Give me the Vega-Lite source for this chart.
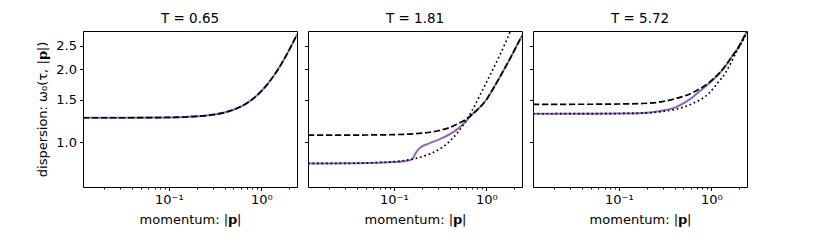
{
  "$schema": "https://vega.github.io/schema/vega-lite/v6.json",
  "padding": {"left": 36, "top": 11, "right": 5, "bottom": 5},
  "background": "white",
  "config": {
    "font": "DejaVu Sans",
    "view": {"stroke": "black", "strokeWidth": 1},
    "axis": {"grid": false, "domain": false, "tickColor": "black", "tickWidth": 1, "labelColor": "black", "titleColor": "black", "labelFontSize": 13, "titleFontSize": 13, "titleFontWeight": "normal", "labelFont": "DejaVu Sans", "titleFont": "DejaVu Sans"},
    "title": {"fontSize": 13.5, "fontWeight": "normal", "color": "black", "font": "DejaVu Sans", "offset": 6}
  },
  "datasets": {
    "d": [
      {"T":"0.65","s":"solid","p":0.0118,"w":1.264},{"T":"0.65","s":"solid","p":0.02,"w":1.264},{"T":"0.65","s":"solid","p":0.03,"w":1.264},{"T":"0.65","s":"solid","p":0.05,"w":1.265},{"T":"0.65","s":"solid","p":0.07,"w":1.266},{"T":"0.65","s":"solid","p":0.1,"w":1.268},{"T":"0.65","s":"solid","p":0.15,"w":1.273},{"T":"0.65","s":"solid","p":0.2,"w":1.281},{"T":"0.65","s":"solid","p":0.3,"w":1.301},{"T":"0.65","s":"solid","p":0.4,"w":1.329},{"T":"0.65","s":"solid","p":0.5,"w":1.364},{"T":"0.65","s":"solid","p":0.6,"w":1.405},{"T":"0.65","s":"solid","p":0.7,"w":1.453},{"T":"0.65","s":"solid","p":0.8,"w":1.506},{"T":"0.65","s":"solid","p":1.0,"w":1.627},{"T":"0.65","s":"solid","p":1.2,"w":1.763},{"T":"0.65","s":"solid","p":1.5,"w":1.989},{"T":"0.65","s":"solid","p":1.8,"w":2.235},{"T":"0.65","s":"solid","p":2.1,"w":2.494},{"T":"0.65","s":"solid","p":2.43,"w":2.79},
      {"T":"0.65","s":"dashed","p":0.0118,"w":1.264},{"T":"0.65","s":"dashed","p":0.02,"w":1.264},{"T":"0.65","s":"dashed","p":0.03,"w":1.264},{"T":"0.65","s":"dashed","p":0.05,"w":1.265},{"T":"0.65","s":"dashed","p":0.07,"w":1.266},{"T":"0.65","s":"dashed","p":0.1,"w":1.268},{"T":"0.65","s":"dashed","p":0.15,"w":1.273},{"T":"0.65","s":"dashed","p":0.2,"w":1.281},{"T":"0.65","s":"dashed","p":0.3,"w":1.301},{"T":"0.65","s":"dashed","p":0.4,"w":1.329},{"T":"0.65","s":"dashed","p":0.5,"w":1.364},{"T":"0.65","s":"dashed","p":0.6,"w":1.405},{"T":"0.65","s":"dashed","p":0.7,"w":1.453},{"T":"0.65","s":"dashed","p":0.8,"w":1.506},{"T":"0.65","s":"dashed","p":1.0,"w":1.627},{"T":"0.65","s":"dashed","p":1.2,"w":1.763},{"T":"0.65","s":"dashed","p":1.5,"w":1.989},{"T":"0.65","s":"dashed","p":1.8,"w":2.235},{"T":"0.65","s":"dashed","p":2.1,"w":2.494},{"T":"0.65","s":"dashed","p":2.43,"w":2.79},

      {"T":"1.81","s":"solid","p":0.0118,"w":0.819},{"T":"1.81","s":"solid","p":0.03,"w":0.82},{"T":"1.81","s":"solid","p":0.05,"w":0.822},{"T":"1.81","s":"solid","p":0.1,"w":0.83},{"T":"1.81","s":"solid","p":0.13,"w":0.837},{"T":"1.81","s":"solid","p":0.15,"w":0.845},{"T":"1.81","s":"solid","p":0.16,"w":0.858},{"T":"1.81","s":"solid","p":0.168,"w":0.89},{"T":"1.81","s":"solid","p":0.18,"w":0.925},{"T":"1.81","s":"solid","p":0.191,"w":0.948},{"T":"1.81","s":"solid","p":0.234,"w":0.987},{"T":"1.81","s":"solid","p":0.327,"w":1.039},{"T":"1.81","s":"solid","p":0.455,"w":1.113},{"T":"1.81","s":"solid","p":0.583,"w":1.205},{"T":"1.81","s":"solid","p":0.65,"w":1.262},{"T":"1.81","s":"solid","p":0.7,"w":1.303},{"T":"1.81","s":"solid","p":0.85,"w":1.395},{"T":"1.81","s":"solid","p":1.0,"w":1.5},{"T":"1.81","s":"solid","p":1.2,"w":1.68},{"T":"1.81","s":"solid","p":1.4,"w":1.86},{"T":"1.81","s":"solid","p":1.65,"w":2.08},{"T":"1.81","s":"solid","p":1.9,"w":2.3},{"T":"1.81","s":"solid","p":2.15,"w":2.52},{"T":"1.81","s":"solid","p":2.43,"w":2.75},
      {"T":"1.81","s":"dashed","p":0.0118,"w":1.072},{"T":"1.81","s":"dashed","p":0.03,"w":1.072},{"T":"1.81","s":"dashed","p":0.05,"w":1.073},{"T":"1.81","s":"dashed","p":0.1,"w":1.077},{"T":"1.81","s":"dashed","p":0.15,"w":1.083},{"T":"1.81","s":"dashed","p":0.2,"w":1.092},{"T":"1.81","s":"dashed","p":0.3,"w":1.117},{"T":"1.81","s":"dashed","p":0.4,"w":1.152},{"T":"1.81","s":"dashed","p":0.5,"w":1.196},{"T":"1.81","s":"dashed","p":0.6,"w":1.245},{"T":"1.81","s":"dashed","p":0.7,"w":1.303},{"T":"1.81","s":"dashed","p":0.85,"w":1.395},{"T":"1.81","s":"dashed","p":1.0,"w":1.5},{"T":"1.81","s":"dashed","p":1.2,"w":1.68},{"T":"1.81","s":"dashed","p":1.4,"w":1.86},{"T":"1.81","s":"dashed","p":1.65,"w":2.08},{"T":"1.81","s":"dashed","p":1.9,"w":2.3},{"T":"1.81","s":"dashed","p":2.15,"w":2.52},{"T":"1.81","s":"dashed","p":2.43,"w":2.75},
      {"T":"1.81","s":"dotted","p":0.0118,"w":0.819},{"T":"1.81","s":"dotted","p":0.03,"w":0.82},{"T":"1.81","s":"dotted","p":0.05,"w":0.823},{"T":"1.81","s":"dotted","p":0.1,"w":0.833},{"T":"1.81","s":"dotted","p":0.15,"w":0.85},{"T":"1.81","s":"dotted","p":0.2,"w":0.873},{"T":"1.81","s":"dotted","p":0.3,"w":0.93},{"T":"1.81","s":"dotted","p":0.4,"w":1.01},{"T":"1.81","s":"dotted","p":0.5,"w":1.11},{"T":"1.81","s":"dotted","p":0.6,"w":1.225},{"T":"1.81","s":"dotted","p":0.7,"w":1.35},{"T":"1.81","s":"dotted","p":0.85,"w":1.56},{"T":"1.81","s":"dotted","p":1.085,"w":1.88},{"T":"1.81","s":"dotted","p":1.39,"w":2.28},{"T":"1.81","s":"dotted","p":1.6,"w":2.56},{"T":"1.81","s":"dotted","p":1.813,"w":2.864},{"T":"1.81","s":"dotted","p":1.9,"w":2.98},

      {"T":"5.72","s":"solid","p":0.0118,"w":1.313},{"T":"5.72","s":"solid","p":0.05,"w":1.314},{"T":"5.72","s":"solid","p":0.1,"w":1.316},{"T":"5.72","s":"solid","p":0.179,"w":1.322},{"T":"5.72","s":"solid","p":0.27,"w":1.345},{"T":"5.72","s":"solid","p":0.408,"w":1.395},{"T":"5.72","s":"solid","p":0.619,"w":1.53},{"T":"5.72","s":"solid","p":0.8,"w":1.66},{"T":"5.72","s":"solid","p":0.935,"w":1.745},{"T":"5.72","s":"solid","p":1.2,"w":1.91},{"T":"5.72","s":"solid","p":1.415,"w":2.06},{"T":"5.72","s":"solid","p":1.7,"w":2.28},{"T":"5.72","s":"solid","p":1.968,"w":2.47},{"T":"5.72","s":"solid","p":2.2,"w":2.67},{"T":"5.72","s":"solid","p":2.43,"w":2.884},
      {"T":"5.72","s":"dashed","p":0.0118,"w":1.436},{"T":"5.72","s":"dashed","p":0.05,"w":1.437},{"T":"5.72","s":"dashed","p":0.1,"w":1.44},{"T":"5.72","s":"dashed","p":0.179,"w":1.447},{"T":"5.72","s":"dashed","p":0.27,"w":1.465},{"T":"5.72","s":"dashed","p":0.408,"w":1.515},{"T":"5.72","s":"dashed","p":0.619,"w":1.6},{"T":"5.72","s":"dashed","p":0.935,"w":1.76},{"T":"5.72","s":"dashed","p":1.2,"w":1.92},{"T":"5.72","s":"dashed","p":1.415,"w":2.067},{"T":"5.72","s":"dashed","p":1.7,"w":2.28},{"T":"5.72","s":"dashed","p":1.968,"w":2.47},{"T":"5.72","s":"dashed","p":2.2,"w":2.67},{"T":"5.72","s":"dashed","p":2.43,"w":2.884},
      {"T":"5.72","s":"dotted","p":0.0118,"w":1.313},{"T":"5.72","s":"dotted","p":0.05,"w":1.314},{"T":"5.72","s":"dotted","p":0.1,"w":1.316},{"T":"5.72","s":"dotted","p":0.179,"w":1.32},{"T":"5.72","s":"dotted","p":0.27,"w":1.336},{"T":"5.72","s":"dotted","p":0.408,"w":1.369},{"T":"5.72","s":"dotted","p":0.619,"w":1.443},{"T":"5.72","s":"dotted","p":0.935,"w":1.59},{"T":"5.72","s":"dotted","p":1.2,"w":1.78},{"T":"5.72","s":"dotted","p":1.415,"w":1.93},{"T":"5.72","s":"dotted","p":1.6,"w":2.1},{"T":"5.72","s":"dotted","p":1.892,"w":2.385},{"T":"5.72","s":"dotted","p":2.228,"w":2.665},{"T":"5.72","s":"dotted","p":2.43,"w":2.837}
    ]
  },
  "spacing": 11,
  "bounds": "flush",
  "hconcat": [
    {
      "width": 214, "height": 156,
      "title": "T = 0.65",
      "data": {"name": "d"},
      "transform": [{"filter": "datum.T == '0.65'"}],
      "encoding": {
        "x": {"field": "p", "type": "quantitative", "scale": {"type": "log", "domain": [0.0118, 2.43], "nice": false},
          "axis": {"values": [0.02,0.03,0.04,0.05,0.06,0.07,0.08,0.09,0.1,0.2,0.3,0.4,0.5,0.6,0.7,0.8,0.9,1,2], "labelExpr": "datum.value == 0.1 ? '10⁻¹' : datum.value == 1 ? '10⁰' : ''", "tickSize": {"condition": {"test": "datum.value == 0.1 || datum.value == 1", "value": 3.5}, "value": 2}, "labelOverlap": false, "labelFlush": false, "labelPadding": 3, "title": "momentum: |𝗽|", "titlePadding": 7}},
        "y": {"field": "w", "type": "quantitative", "scale": {"type": "log", "domain": [0.655, 2.88], "nice": false},
          "axis": {"values": [1, 1.5, 2, 2.5], "format": ".1f", "tickSize": 3.5, "labelPadding": 3, "title": "dispersion: ω₀(τ, |𝗽|)", "titlePadding": 6}}
      },
      "layer": [
        {"transform": [{"filter": "datum.s == 'solid'"}], "mark": {"type": "line", "color": "#9467bd", "strokeWidth": 2, "clip": true, "interpolate": "monotone"}, "encoding": {}},
        {"transform": [{"filter": "datum.s == 'dashed'"}], "mark": {"type": "line", "color": "black", "strokeWidth": 1.7, "strokeDash": [6.3, 2.7], "clip": true, "interpolate": "monotone"}, "encoding": {}}
      ]
    },
    {
      "width": 214, "height": 156,
      "title": "T = 1.81",
      "data": {"name": "d"},
      "transform": [{"filter": "datum.T == '1.81'"}],
      "encoding": {
        "x": {"field": "p", "type": "quantitative", "scale": {"type": "log", "domain": [0.0118, 2.43], "nice": false},
          "axis": {"values": [0.02,0.03,0.04,0.05,0.06,0.07,0.08,0.09,0.1,0.2,0.3,0.4,0.5,0.6,0.7,0.8,0.9,1,2], "labelExpr": "datum.value == 0.1 ? '10⁻¹' : datum.value == 1 ? '10⁰' : ''", "tickSize": {"condition": {"test": "datum.value == 0.1 || datum.value == 1", "value": 3.5}, "value": 2}, "labelOverlap": false, "labelFlush": false, "labelPadding": 3, "title": "momentum: |𝗽|", "titlePadding": 7}},
        "y": {"field": "w", "type": "quantitative", "scale": {"type": "log", "domain": [0.655, 2.88], "nice": false},
          "axis": {"values": [1, 1.5, 2, 2.5], "labels": false, "tickSize": 3.5, "title": null}}
      },
      "layer": [
        {"transform": [{"filter": "datum.s == 'solid'"}], "mark": {"type": "line", "color": "#9467bd", "strokeWidth": 2, "clip": true, "interpolate": "monotone"}, "encoding": {}},
        {"transform": [{"filter": "datum.s == 'dashed'"}], "mark": {"type": "line", "color": "black", "strokeWidth": 1.7, "strokeDash": [6.3, 2.7], "clip": true, "interpolate": "monotone"}, "encoding": {}},
        {"transform": [{"filter": "datum.s == 'dotted'"}], "mark": {"type": "line", "color": "black", "strokeWidth": 1.7, "strokeDash": [1.7, 2.8], "clip": true, "interpolate": "monotone"}, "encoding": {}}
      ]
    },
    {
      "width": 214, "height": 156,
      "title": "T = 5.72",
      "data": {"name": "d"},
      "transform": [{"filter": "datum.T == '5.72'"}],
      "encoding": {
        "x": {"field": "p", "type": "quantitative", "scale": {"type": "log", "domain": [0.0118, 2.43], "nice": false},
          "axis": {"values": [0.02,0.03,0.04,0.05,0.06,0.07,0.08,0.09,0.1,0.2,0.3,0.4,0.5,0.6,0.7,0.8,0.9,1,2], "labelExpr": "datum.value == 0.1 ? '10⁻¹' : datum.value == 1 ? '10⁰' : ''", "tickSize": {"condition": {"test": "datum.value == 0.1 || datum.value == 1", "value": 3.5}, "value": 2}, "labelOverlap": false, "labelFlush": false, "labelPadding": 3, "title": "momentum: |𝗽|", "titlePadding": 7}},
        "y": {"field": "w", "type": "quantitative", "scale": {"type": "log", "domain": [0.655, 2.88], "nice": false},
          "axis": {"values": [1, 1.5, 2, 2.5], "labels": false, "tickSize": 3.5, "title": null}}
      },
      "layer": [
        {"transform": [{"filter": "datum.s == 'solid'"}], "mark": {"type": "line", "color": "#9467bd", "strokeWidth": 2, "clip": true, "interpolate": "monotone"}, "encoding": {}},
        {"transform": [{"filter": "datum.s == 'dashed'"}], "mark": {"type": "line", "color": "black", "strokeWidth": 1.7, "strokeDash": [6.3, 2.7], "clip": true, "interpolate": "monotone"}, "encoding": {}},
        {"transform": [{"filter": "datum.s == 'dotted'"}], "mark": {"type": "line", "color": "black", "strokeWidth": 1.7, "strokeDash": [1.7, 2.8], "clip": true, "interpolate": "monotone"}, "encoding": {}}
      ]
    }
  ]
}
